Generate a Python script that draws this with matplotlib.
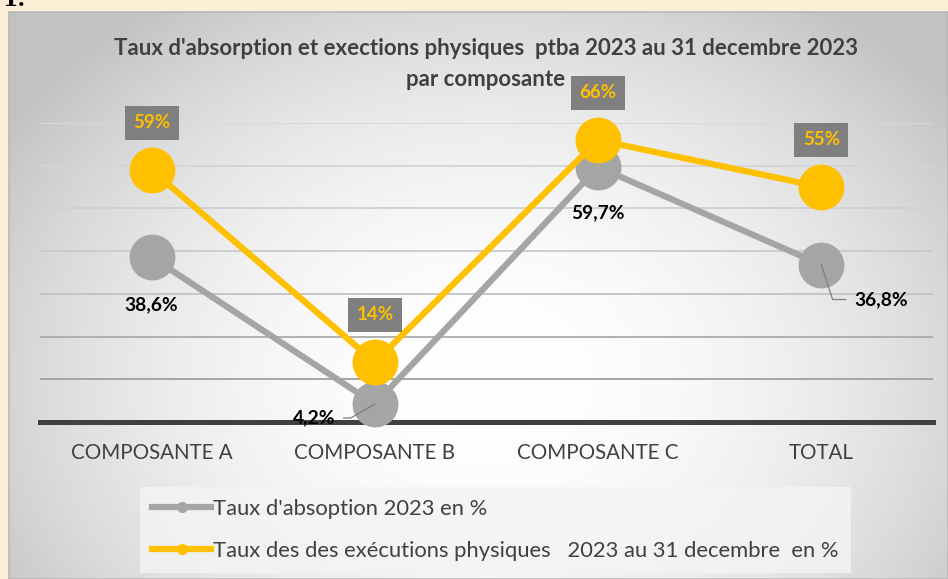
import numpy as np
import matplotlib
matplotlib.use('Agg')
import matplotlib.pyplot as plt
from matplotlib.lines import Line2D

# data
categories = ['COMPOSANTE A', 'COMPOSANTE B', 'COMPOSANTE C', 'TOTAL']
absorption = [38.6, 4.2, 59.7, 36.8]
execution = [59, 14, 66, 55]
absorption_labels = ['38,6%', '4,2%', '59,7%', '36,8%']
execution_labels = ['59%', '14%', '66%', '55%']
series_names = ["Taux d'absoption 2023 en %",
                "Taux des des exécutions physiques   2023 au 31 decembre  en %"]
title = ("Taux d'absorption et exections physiques  ptba 2023 au 31 decembre 2023\n"
         "par composante")

GRAY = '#A5A5A5'
GOLD = '#FFC000'
DARK = '#404040'
plt.rcParams['font.family'] = ['Lato', 'DejaVu Sans']

W, H = 948, 579
fig = plt.figure(figsize=(W / 100, H / 100), dpi=100)
fig.patch.set_facecolor('#FCEFD6')

# chart frame with radial grey gradient
bg = fig.add_axes([9 / W, 0, 1 - 9 / W, 1 - 12 / H])
xs = np.linspace(9, 948, 400)
ys = np.linspace(12, 579, 250)
X, Y = np.meshgrid(xs, ys)
d2 = ((X - 490) / 500) ** 2 + ((Y - 380) / 400) ** 2
val = (255 - 45 * np.clip(d2, 0, 1.35)) / 255
bg.imshow(np.dstack([val, val, val]), extent=[0, 1, 0, 1], aspect='auto',
          origin='upper')
bg.set_xticks([]); bg.set_yticks([])
for s in bg.spines.values():
    s.set_color('#B8B8B8')
    s.set_linewidth(1.2)

fig.text(2 / W, 1.0, '1.', fontsize=16, fontweight='bold', family='DejaVu Serif',
         ha='left', va='center')

# plot area
ax = fig.add_axes([40 / W, (H - 422) / H, 893 / W, (422 - 123) / H])
ax.set_facecolor('none')
ax.set_xlim(-0.5, 3.5)
ax.set_ylim(0, 70)
ax.set_yticks(range(0, 71, 10))
ax.set_yticklabels([])
ax.tick_params(axis='y', length=0)
ax.tick_params(axis='x', length=0, pad=15, labelsize=14.8, labelcolor=DARK)
x = np.arange(len(categories))
ax.set_xticks(x)
ax.set_xticklabels(categories)
ax.yaxis.grid(True, lw=1.3)
grid_cols = ['#404040', '#A0A0A0', '#ABABAB', '#C2C2C2', '#CACACA', '#D0D0D0', '#D4D4D4', '#D8D8D8']
for gl, c in zip(ax.yaxis.get_gridlines(), grid_cols):
    gl.set_color(c)
for k in ['top', 'left', 'right']:
    ax.spines[k].set_visible(False)
ax.spines['bottom'].set_color(DARK)
ax.spines['bottom'].set_linewidth(3.6)
ax.spines['bottom'].set_zorder(2.5)

ax.plot(x, absorption, color=GRAY, lw=4.5, marker='o', ms=32, zorder=3,
        clip_on=False)
ax.plot(x, execution, color=GOLD, lw=4.5, marker='o', ms=32, zorder=4,
        clip_on=False)

# yellow labels in grey boxes above the markers
for xi, v, lab in zip(x, execution, execution_labels):
    ax.annotate(lab, (xi, v), xytext=(0, 34), textcoords='offset points',
                ha='center', va='center', fontsize=13.5, fontweight='bold',
                color=GOLD, zorder=6,
                bbox=dict(boxstyle='square,pad=0.45', fc='#7F7F7F', ec='none'))

# grey series labels
offsets = [(0, -34), (-44, -10), (0, -33), (43, -25)]
leaders = [None, dict(relpos=(1, 0.5), angleB=30), None, dict(relpos=(0, 0.5), angleB=108)]
for xi, v, lab, off, ld in zip(x, absorption, absorption_labels, offsets, leaders):
    kw = {}
    if ld is not None:
        kw['arrowprops'] = dict(arrowstyle='-', color='#7F7F7F', lw=0.9,
                                shrinkA=4, shrinkB=0, relpos=ld['relpos'],
                                connectionstyle='angle,angleA=0,angleB=%d,rad=0' % ld['angleB'])
    ax.annotate(lab, (xi, v), xytext=off, textcoords='offset points',
                ha='center', va='center', fontsize=13.8, fontweight='bold',
                color='black', zorder=6, annotation_clip=False, **kw)

fig.text(486 / W, 1 - 64 / H, title, ha='center', va='center', fontsize=16,
         fontweight='bold', color=DARK, linespacing=1.6)

handles = [Line2D([], [], color=GRAY, lw=4.5, marker='o', ms=7),
           Line2D([], [], color=GOLD, lw=4.5, marker='o', ms=7)]
leg = ax.legend(handles, series_names, loc='upper left',
                bbox_to_anchor=(140 / W, 1 - 487 / H), bbox_transform=fig.transFigure,
                frameon=True, fancybox=False, facecolor='#F4F4F4', edgecolor='none',
                framealpha=0.8, fontsize=15.8, labelspacing=1.0, handlelength=2.7,
                handletextpad=0.08, borderpad=0.55, borderaxespad=0)
for t in leg.get_texts():
    t.set_color(DARK)

fig.savefig('out.png', dpi=100, facecolor=fig.get_facecolor())
